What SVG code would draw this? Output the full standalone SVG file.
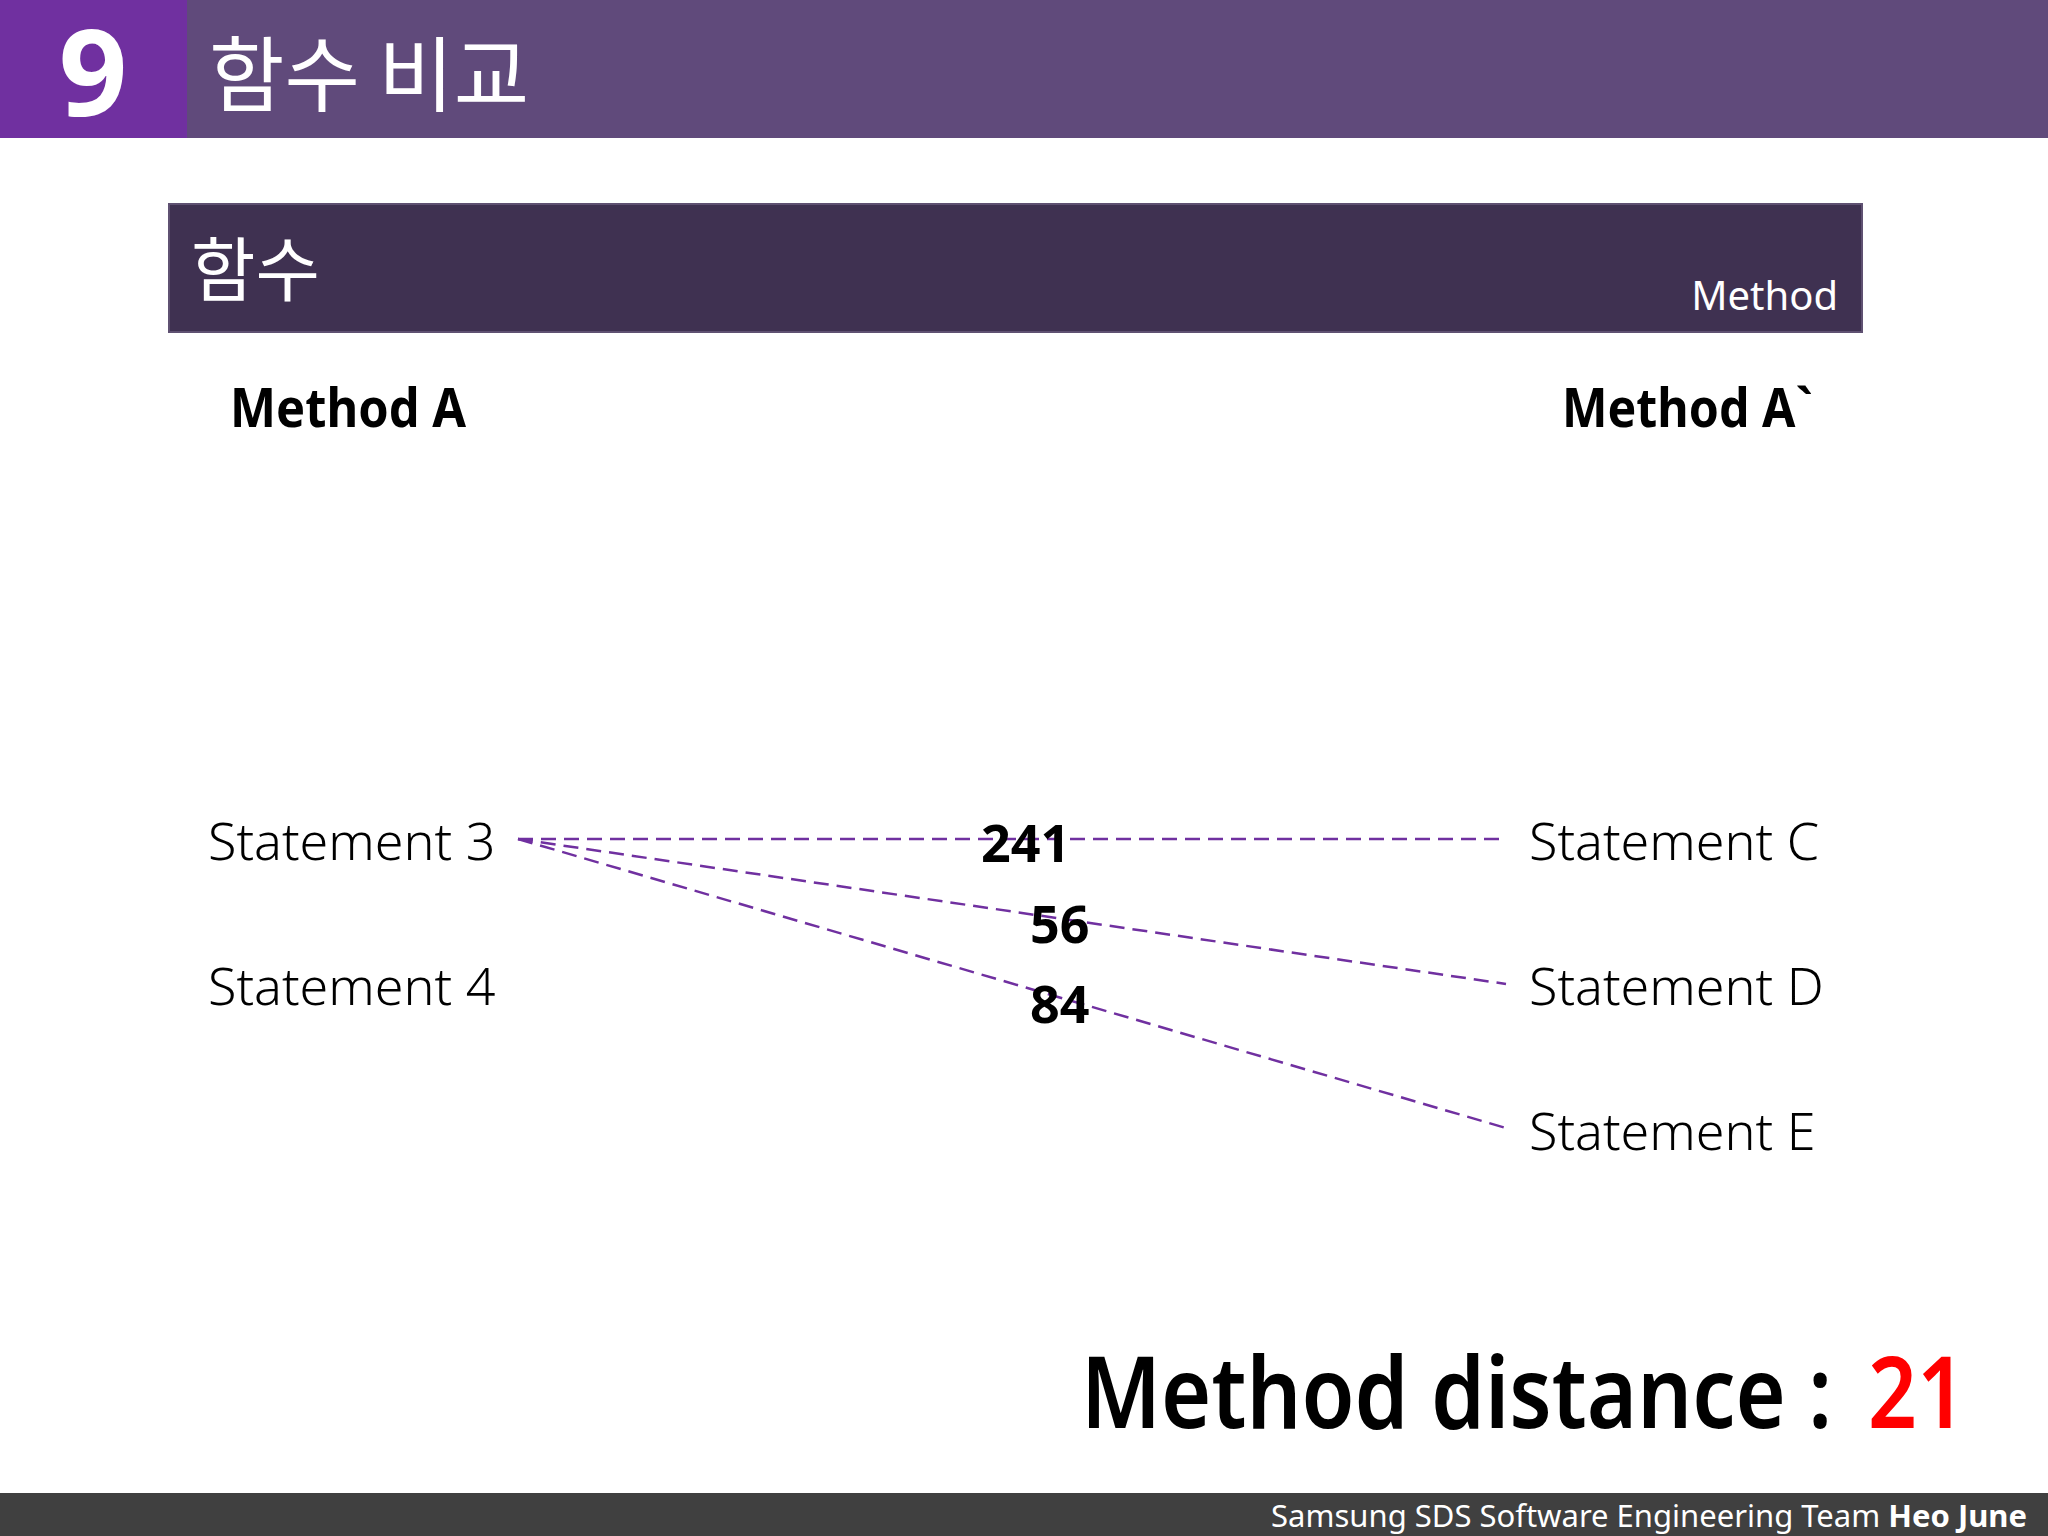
<svg xmlns="http://www.w3.org/2000/svg" width="2048" height="1536" viewBox="0 0 2048 1536">
<style>
.sans{font-family:"Noto Sans","Open Sans","Noto Sans CJK KR",sans-serif}
.kr{font-family:"Noto Sans CJK KR","Noto Sans",sans-serif}
.stmt{font-family:"Noto Sans","Open Sans",sans-serif;font-size:52px;font-weight:300;fill:#000}
.num{font-family:"Noto Sans","Open Sans",sans-serif;font-size:52px;font-weight:bold;fill:#000}
.head{font-family:"Noto Sans","Open Sans",sans-serif;font-size:53px;font-weight:bold;fill:#000}
.link{fill:none;stroke:#7030a0;stroke-width:2.5;stroke-dasharray:15 8}
</style>
<rect x="0" y="0" width="2048" height="1536" fill="#ffffff"/>
<g id="header">
<rect x="0" y="0" width="2048" height="138" fill="#604a7b"/>
<rect x="0" y="0" width="187" height="138" fill="#7030a0"/>
<text x="93" y="116" text-anchor="middle" class="sans" font-size="120" font-weight="bold" fill="#fff">9</text>
<text x="209" y="105" class="kr" font-size="82" fill="#fff">함수 비교</text>
</g>
<g id="subtitle">
<rect x="169" y="204" width="1693" height="128" fill="#3f3151" stroke="#5f5172" stroke-width="2"/>
<text x="191" y="296" class="kr" font-size="70" fill="#fff">함수</text>
<text x="1838" y="310" text-anchor="end" class="sans" font-size="40" fill="#fff">Method</text>
</g>
<g id="methodA"><text x="230" y="427" class="head" textLength="236" lengthAdjust="spacingAndGlyphs">Method A</text></g>
<g id="methodA2"><text x="1562" y="427" class="head" textLength="251" lengthAdjust="spacingAndGlyphs">Method A`</text></g>
<g id="connectors">
<line class="link" x1="518" y1="839" x2="1506" y2="839"/>
<line class="link" x1="518" y1="839" x2="1506" y2="984"/>
<line class="link" x1="518" y1="839" x2="1506" y2="1128"/>
</g>
<g id="stmt3"><text x="208" y="860" class="stmt">Statement 3</text></g>
<g id="stmt4"><text x="208" y="1005" class="stmt">Statement 4</text></g>
<g id="stmtC"><text x="1529" y="860" class="stmt">Statement C</text></g>
<g id="stmtD"><text x="1529" y="1005" class="stmt">Statement D</text></g>
<g id="stmtE"><text x="1529" y="1150" class="stmt">Statement E</text></g>
<g id="labels">
<text x="981" y="862" class="num">241</text>
<text x="1030" y="943" class="num">56</text>
<text x="1030" y="1023" class="num">84</text>
</g>
<g id="distance">
<text x="1081" y="1428" class="sans" font-size="100" font-weight="600" fill="#000" textLength="751" lengthAdjust="spacingAndGlyphs">Method distance :</text>
<text x="1868" y="1428" class="sans" font-size="100" font-weight="600" fill="#ff0000" textLength="98" lengthAdjust="spacingAndGlyphs">21</text>
</g>
<g id="footer">
<rect x="0" y="1493" width="2048" height="43" fill="#404040"/>
<text x="2027" y="1527" text-anchor="end" class="sans" font-size="31" fill="#fff">Samsung SDS Software Engineering Team <tspan font-weight="bold">Heo June</tspan></text>
</g>
</svg>
